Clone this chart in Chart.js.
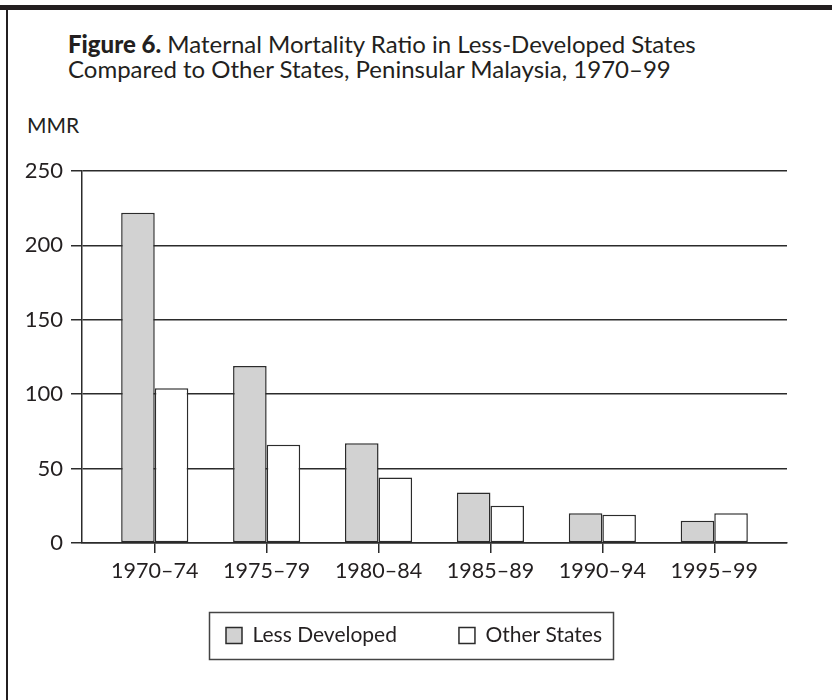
<!DOCTYPE html>
<html>
<head>
<meta charset="utf-8">
<script src="https://cdn.jsdelivr.net/npm/chart.js@4"></script>
<style>
  body { margin: 0; background: #fff; }
  #wrap { position: relative; width: 832px; height: 700px; overflow: hidden; font-family: Lato, sans-serif; color: #231f20; }
  #topBar { position: absolute; left: 0; top: 5px; width: 832px; height: 5px; background: #231f20; }
  #leftRule { position: absolute; left: 6px; top: 5px; width: 2px; height: 700px; background: #231f20; }
  #title { position: absolute; left: 68px; top: 32px; font-size: 24px; line-height: 24.5px; white-space: nowrap; }
  #title b { font-weight: 900; }
  #mmr { position: absolute; left: 27px; top: 114px; font-size: 21px; line-height: 21px; }
  canvas { position: absolute; left: 0; top: 0; }
</style>
</head>
<body>
<div id="wrap">
  <div id="topBar"></div>
  <div id="leftRule"></div>
  <div id="title"><b>Figure 6.</b> Maternal Mortality Ratio in Less-Developed States<br>Compared to Other States, Peninsular Malaysia, 1970–99</div>
  <div id="mmr">MMR</div>
  <canvas id="mmrChart" width="832" height="700"></canvas>
</div>
<script>
"use strict";
// periods on the x axis
const periods = ['1970–74', '1975–79', '1980–84', '1985–89', '1990–94', '1995–99'];
// maternal mortality ratio
const lessDeveloped = [222, 119, 67, 34, 20, 15];
const otherStates = [104, 66, 44, 25, 19, 20];
const yTicks = [0, 50, 100, 150, 200, 250];

const ink = '#2b2b2b';

// puts the legend under the chart and draws the frame round it
const legendSpot = {
    id: 'legendSpot',
    afterLayout(chart) {
        const lg = chart.legend;
        const pad = lg.options.labels.padding;
        lg.left = 226 - pad;
        lg.right = 832;
        lg.top = 625 - pad;
        lg.bottom = 700;
        lg.width = lg.right - lg.left;
        lg.height = lg.bottom - lg.top;
    },
    afterDraw(chart) {
        const ctx = chart.ctx;
        ctx.save();
        ctx.strokeStyle = '#444';
        ctx.lineWidth = 1.5;
        ctx.strokeRect(209.5, 612.5, 404, 47);
        ctx.restore();
    }
};

const ctx = document.getElementById('mmrChart').getContext('2d');
const mmrChart = new Chart(ctx, {
    type: 'bar',
    data: {
        datasets: [
            {
                label: 'Less Developed',
                data: lessDeveloped.map((v, i) => ({ x: i, y: v })),
                backgroundColor: '#d2d2d2',
                borderColor: ink,
                borderWidth: 1.5,
                borderSkipped: false
            },
            {
                label: 'Other States',
                data: otherStates.map((v, i) => ({ x: i, y: v })),
                backgroundColor: '#ffffff',
                borderColor: ink,
                borderWidth: 1.5,
                borderSkipped: false
            }
        ]
    },
    options: {
        responsive: false,
        devicePixelRatio: 1,
        animation: false,
        categoryPercentage: 0.6,
        barPercentage: 1,
        layout: {
            padding: { left: 0, right: 45, top: 171, bottom: 116 }
        },
        font: { family: 'Lato', size: 21 },
        color: '#231f20',
        plugins: {
            tooltip: { enabled: false },
            legend: {
                position: 'bottom',
                align: 'start',
                maxHeight: 1,
                labels: {
                    boxWidth: 16,
                    boxHeight: 16,
                    padding: 62,
                    color: '#231f20',
                    font: { family: 'Lato', size: 21 }
                }
            }
        },
        scales: {
            x: {
                type: 'linear',
                min: -0.65,
                max: 5.65,
                offset: false,
                afterFit: (scale) => { scale.height = 40; },
                afterBuildTicks: (scale) => {
                    scale.ticks = periods.map((p, i) => ({ value: i }));
                },
                ticks: {
                    callback: (value) => periods[value],
                    color: '#231f20',
                    padding: 5,
                    maxRotation: 0,
                    autoSkip: false,
                    font: { family: 'Lato', size: 21.5 }
                },
                grid: {
                    offset: false,
                    drawOnChartArea: false,
                    drawTicks: true,
                    tickLength: 10,
                    color: ink,
                    lineWidth: 1.5
                },
                border: { color: ink, width: 1.5 }
            },
            y: {
                min: 0,
                max: 250,
                afterFit: (scale) => { scale.width = 82; },
                afterBuildTicks: (scale) => {
                    scale.ticks = yTicks.map(v => ({ value: v }));
                },
                ticks: {
                    color: '#231f20',
                    padding: 8,
                    font: { family: 'Lato', size: 22 }
                },
                grid: {
                    color: ink,
                    lineWidth: 1.5,
                    tickLength: 11
                },
                border: { color: ink, width: 1.5 }
            }
        }
    },
    plugins: [legendSpot]
});
</script>
</body>
</html>
